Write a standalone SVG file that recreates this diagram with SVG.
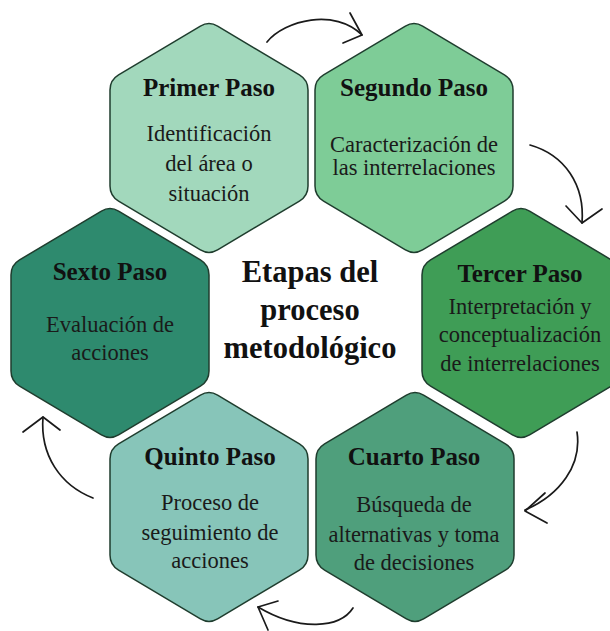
<svg xmlns="http://www.w3.org/2000/svg" xmlns:xlink="http://www.w3.org/1999/xlink" width="610" height="631" viewBox="0 0 610 631">
<style>
.hex{stroke:#1f3d2e;stroke-width:1.5}
.t{font-family:"Liberation Serif","Times New Roman",serif;font-weight:bold;font-size:25px;fill:#111;text-anchor:middle}
.b{font-family:"Liberation Serif","Times New Roman",serif;font-size:22.5px;fill:#1a1a1a;text-anchor:middle}
.c{font-family:"Liberation Serif","Times New Roman",serif;font-weight:bold;font-size:30.5px;fill:#111;text-anchor:middle}
.arr{fill:none;stroke:#1a1a1a;stroke-width:1.7;stroke-linecap:round;stroke-linejoin:round}
</style>
<defs>
<path id="hexshape" d="M8.59,-111.88 L90.41,-63.12 Q99,-58 99,-48 L99,48 Q99,58 90.41,63.12 L8.59,111.88 Q0,117 -8.59,111.88 L-90.41,63.12 Q-99,58 -99,48 L-99,-48 Q-99,-58 -90.41,-63.12 L-8.59,-111.88 Q0,-117 8.59,-111.88 Z"/>
</defs>
<rect width="610" height="631" fill="#ffffff"/>
<g id="primer">
<use xlink:href="#hexshape" href="#hexshape" x="209" y="138" class="hex" fill="#a2d8bc"/>
<text class="t" x="209" y="96">Primer Paso</text>
<text class="b" x="209" y="141">Identificación</text>
<text class="b" x="209" y="171">del área o</text>
<text class="b" x="209" y="201">situación</text>
</g>
<g id="segundo">
<use xlink:href="#hexshape" href="#hexshape" x="414" y="138" class="hex" fill="#7ecc97"/>
<text class="t" x="414" y="96">Segundo Paso</text>
<text class="b" x="414" y="152">Caracterización de</text>
<text class="b" x="414" y="175">las interrelaciones</text>
</g>
<g id="tercer">
<use xlink:href="#hexshape" href="#hexshape" x="521" y="323" class="hex" fill="#3f9d56"/>
<text class="t" x="520" y="282">Tercer Paso</text>
<text class="b" x="520" y="314">Interpretación y</text>
<text class="b" x="520" y="342">conceptualización</text>
<text class="b" x="520" y="371">de interrelaciones</text>
</g>
<g id="cuarto">
<use xlink:href="#hexshape" href="#hexshape" x="415" y="507" class="hex" fill="#4f9f7c"/>
<text class="t" x="414" y="465">Cuarto Paso</text>
<text class="b" x="414" y="512">Búsqueda de</text>
<text class="b" x="414" y="542">alternativas y toma</text>
<text class="b" x="414" y="570">de decisiones</text>
</g>
<g id="quinto">
<use xlink:href="#hexshape" href="#hexshape" x="209" y="507" class="hex" fill="#87c5b9"/>
<text class="t" x="210" y="465">Quinto Paso</text>
<text class="b" x="210" y="510">Proceso de</text>
<text class="b" x="210" y="540">seguimiento de</text>
<text class="b" x="210" y="568">acciones</text>
</g>
<g id="sexto">
<use xlink:href="#hexshape" href="#hexshape" x="110" y="323" class="hex" fill="#2e8a6e"/>
<text class="t" x="110" y="280">Sexto Paso</text>
<text class="b" x="110" y="332">Evaluación de</text>
<text class="b" x="110" y="360">acciones</text>
</g>
<g id="centro">
<text class="c" x="310" y="282">Etapas del</text>
<text class="c" x="310" y="320">proceso</text>
<text class="c" x="310" y="358">metodológico</text>
</g>
<g id="connectors">
<path class="arr" d="M267,42 C285,20 335,8 362,35"/>
<path class="arr" d="M350,13 L362,35 L343,43"/>
<path class="arr" d="M530,145 C565,155 585,185 582,223"/>
<path class="arr" d="M566,206 L582,223 L602,209"/>
<path class="arr" d="M577,432 C582,465 560,495 525,510"/>
<path class="arr" d="M545,493 L525,511 L547,523"/>
<path class="arr" d="M353,608 C340,628 300,632 258,607"/>
<path class="arr" d="M278,601 L258,607 L268,630"/>
<path class="arr" d="M93,498 C60,485 40,455 43,417"/>
<path class="arr" d="M23,432 L43,417 L60,430"/>
</g>
</svg>
